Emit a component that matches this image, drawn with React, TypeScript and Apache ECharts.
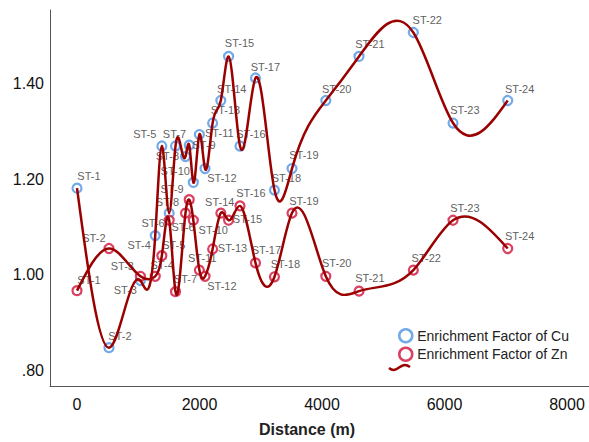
import React, { useEffect, useRef } from "react";
import * as echarts from "echarts";

const stations = [
  "ST-1", "ST-2", "ST-3", "ST-4", "ST-5", "ST-6", "ST-7", "ST-8", "ST-9", "ST-10", "ST-11", "ST-12",
  "ST-13", "ST-14", "ST-15", "ST-16", "ST-17", "ST-18", "ST-19", "ST-20", "ST-21", "ST-22", "ST-23", "ST-24",
];
const distance = [
  0, 522, 1035, 1277, 1385, 1505, 1608, 1771, 1832, 1899, 1998, 2090,
  2214, 2348, 2475, 2661, 2914, 3224, 3510, 4062, 4604, 5491, 6139, 7032,
];
const efCu = [
  1.181, 0.848, 0.988, 1.082, 1.269, 1.129, 1.269, 1.247, 1.271, 1.193, 1.293, 1.222,
  1.317, 1.364, 1.456, 1.269, 1.411, 1.177, 1.222, 1.364, 1.456, 1.506, 1.317, 1.364,
];
const efZn = [
  0.967, 1.055, 0.997, 0.997, 1.040, 1.114, 0.965, 1.129, 1.157, 1.114, 1.010, 0.997,
  1.054, 1.129, 1.114, 1.144, 1.025, 0.996, 1.129, 0.997, 0.966, 1.010, 1.114, 1.055,
];
const xTicks = [0, 2000, 4000, 6000, 8000];
const yTicks = [0.8, 1.0, 1.2, 1.4];

// label offsets (text centre relative to marker centre), in px
const cuLabelOffset: [number, number][] = [
  [13, -11], [12, -11], [-14, 10], [-15, 10], [-16, -11], [-15, 11], [0, -11], [-17, 1], [16, 1], [-17, -10], [21, 0], [18, 11],
  [14, -12], [12, -10], [12, -12], [12, -11], [11, -10], [13, -11], [13, -12], [12, -10], [12, -11], [15, -11], [13, -12], [13, -10],
];
const znLabelOffset: [number, number][] = [
  [13, -10], [-14, -9], [-17, -9], [8, -10], [13, -10], [15, 8], [11, -12], [-17, -10], [-16, -10], [21, 11], [4, -11], [18, 11],
  [21, 0], [0, -10], [20, 0], [12, -12], [12, -12], [12, -12], [13, -11], [12, -12], [12, -12], [14, -11], [13, -11], [13, -11],
];

const FONT = "'Liberation Sans', Arial, sans-serif";
const CU_COLOR = "#4f94e4";
const ZN_COLOR = "#d0103a";
const LINE_COLOR = "#9a0000";
const SYM = 9;

function scatterData(values: number[], offsets: [number, number][]) {
  return values.map((v, i) => ({
    value: [distance[i], v],
    name: stations[i],
    label: {
      position: [SYM / 2 + offsets[i][0], SYM / 2 + offsets[i][1]],
    },
  }));
}

// natural cubic spline y(x) through the projected data points -> SVG path data
function splinePath(pts: number[][]): string {
  const n = pts.length;
  const xs = pts.map((p) => p[0]);
  const ys = pts.map((p) => p[1]);
  const h: number[] = [];
  for (let i = 0; i < n - 1; i++) h.push(Math.max(xs[i + 1] - xs[i], 1e-6));
  const M = new Array(n).fill(0);
  if (n >= 3) {
    const a: number[] = [], b: number[] = [], c: number[] = [], d: number[] = [];
    for (let i = 1; i < n - 1; i++) {
      a.push(h[i - 1]);
      b.push(2 * (h[i - 1] + h[i]));
      c.push(h[i]);
      d.push(6 * ((ys[i + 1] - ys[i]) / h[i] - (ys[i] - ys[i - 1]) / h[i - 1]));
    }
    const m = b.length;
    for (let i = 1; i < m; i++) {
      const w = a[i] / b[i - 1];
      b[i] -= w * c[i - 1];
      d[i] -= w * d[i - 1];
    }
    const x = new Array(m).fill(0);
    x[m - 1] = d[m - 1] / b[m - 1];
    for (let i = m - 2; i >= 0; i--) x[i] = (d[i] - c[i] * x[i + 1]) / b[i];
    for (let i = 0; i < m; i++) M[i + 1] = x[i];
  }
  let path = `M${xs[0]},${ys[0]}`;
  for (let i = 0; i < n - 1; i++) {
    const hi = h[i];
    const s = (ys[i + 1] - ys[i]) / hi;
    const d0 = s - (hi * (2 * M[i] + M[i + 1])) / 6;
    const d1 = s + (hi * (M[i] + 2 * M[i + 1])) / 6;
    path += ` C${xs[i] + hi / 3},${ys[i] + (d0 * hi) / 3} ${xs[i + 1] - hi / 3},${ys[i + 1] - (d1 * hi) / 3} ${xs[i + 1]},${ys[i + 1]}`;
  }
  return path;
}

function curveSeries(name: string, values: number[]) {
  return {
    name,
    type: "custom",
    silent: true,
    clip: false,
    z: 3,
    data: [[distance[0], values[0]]],
    renderItem: (_params: any, api: any) => {
      const pts = distance.map((d, i) => api.coord([d, values[i]]));
      return {
        type: "path",
        shape: { pathData: splinePath(pts) },
        style: { stroke: LINE_COLOR, lineWidth: 2.5, fill: "none" },
      };
    },
  };
}

export default function App() {
  const ref = useRef<HTMLDivElement>(null);
  useEffect(() => {
    if (!ref.current) return;
    const chart = echarts.init(ref.current, undefined, { renderer: "svg" });
    const labelBase = {
      show: true,
      formatter: (p: any) => p.name,
      fontFamily: FONT,
      fontSize: 11,
      color: "#333",
      align: "center",
      verticalAlign: "middle",
    };
    chart.setOption({
      animation: false,
      backgroundColor: "#fff",
      grid: { left: 50, right: 0, top: 10, bottom: 50, containLabel: false },
      xAxis: {
        type: "value",
        min: -441,
        max: 8359,
        name: "Distance (m)",
        nameLocation: "middle",
        nameGap: 35,
        nameTextStyle: { fontFamily: FONT, fontSize: 16, fontWeight: "bold", color: "#222", padding: [0, 25, 0, 0] },
        axisLine: { show: true, onZero: false, lineStyle: { color: "#555", width: 1 } },
        axisTick: { show: false },
        splitLine: { show: false },
        axisLabel: {
          customValues: xTicks,
          fontFamily: FONT,
          fontSize: 16,
          color: "#111",
          margin: 10,
          formatter: (v: number) => String(v),
        },
      },
      yAxis: {
        type: "value",
        min: 0.768,
        max: 1.553,
        axisLine: { show: true, onZero: false, lineStyle: { color: "#555", width: 1 } },
        axisTick: { show: false },
        splitLine: { show: false },
        axisLabel: {
          customValues: yTicks,
          fontFamily: FONT,
          fontSize: 16,
          color: "#111",
          margin: 6,
          formatter: (v: number) => v.toFixed(2).replace(/^0\./, "."),
        },
      },
      legend: {
        orient: "vertical",
        left: 393,
        top: 323,
        itemGap: 3,
        itemWidth: 13,
        itemHeight: 13,
        textStyle: { fontFamily: FONT, fontSize: 14, color: "#222" },
        data: [
          {
            name: "Enrichment Factor of Cu",
            icon: "circle",
            itemStyle: { color: "#fff", borderColor: CU_COLOR, borderWidth: 2.5 },
          },
          {
            name: "Enrichment Factor of Zn",
            icon: "circle",
            itemStyle: { color: "#fff", borderColor: ZN_COLOR, borderWidth: 2.5 },
          },
        ],
      },
      graphic: [
        {
          type: "bezierCurve",
          shape: { x1: 389, y1: 368, x2: 410, y2: 367, cpx1: 398, cpy1: 375, cpx2: 400, cpy2: 360 },
          style: { stroke: LINE_COLOR, lineWidth: 2.5, fill: null },
        },
      ],
      series: [
        {
          name: "Enrichment Factor of Cu",
          type: "scatter",
          symbol: "circle",
          symbolSize: SYM,
          itemStyle: { color: "#fff", borderColor: CU_COLOR, borderWidth: 2.2 },
          label: labelBase,
          data: scatterData(efCu, cuLabelOffset),
          z: 2,
        },
        {
          name: "Enrichment Factor of Zn",
          type: "scatter",
          symbol: "circle",
          symbolSize: SYM,
          itemStyle: { color: "#fff", borderColor: ZN_COLOR, borderWidth: 2.2 },
          label: labelBase,
          data: scatterData(efZn, znLabelOffset),
          z: 2,
        },
        curveSeries("Cu spline", efCu),
        curveSeries("Zn spline", efZn),
      ],
    });
    return () => chart.dispose();
  }, []);
  return <div ref={ref} style={{ width: 589, height: 442, position: "absolute", left: 0, top: 0 }} />;
}
